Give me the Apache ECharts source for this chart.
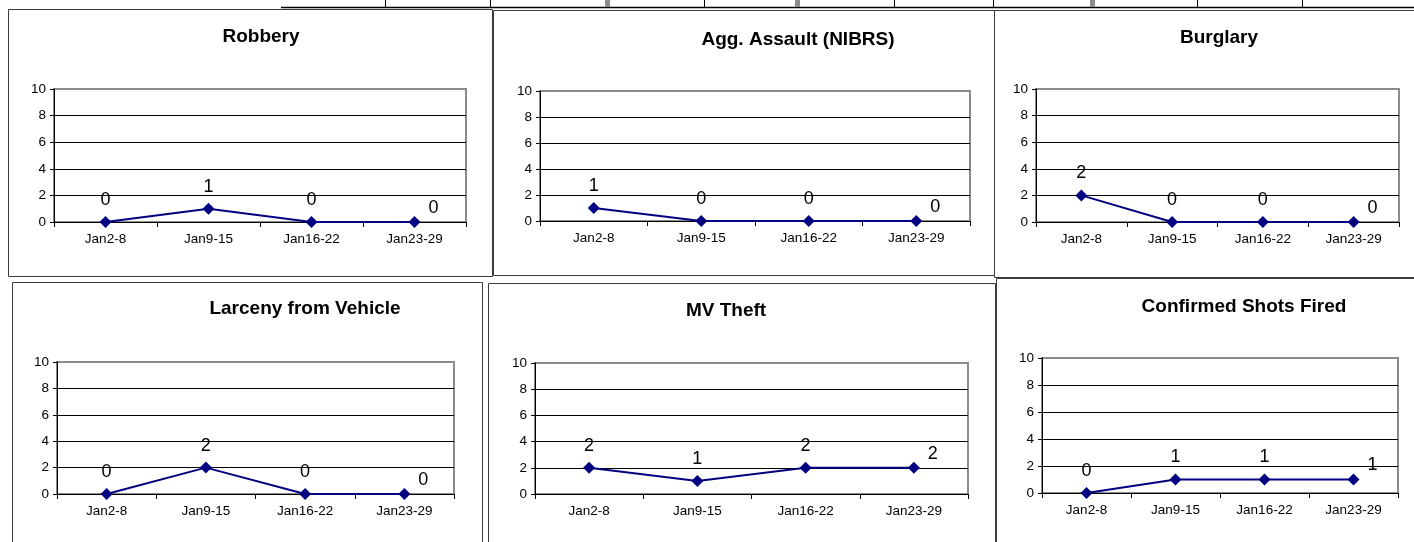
<!DOCTYPE html>
<html>
<head>
<meta charset="utf-8">
<script src="https://cdn.jsdelivr.net/npm/echarts@6/dist/echarts.min.js"></script>
<style>
  html, body { margin: 0; padding: 0; background: #fff; }
  #main { width: 1414px; height: 542px; }
</style>
</head>
<body>
<div id="main"></div>
<script>
// weekly counts per crime type
const weeks = ['Jan2-8', 'Jan9-15', 'Jan16-22', 'Jan23-29']
const yTicks = [0, 2, 4, 6, 8, 10]

const robbery = [0, 1, 0, 0]
const aggAssault = [1, 0, 0, 0]
const burglary = [2, 0, 0, 0]
const larcenyFromVehicle = [0, 2, 0, 0]
const mvTheft = [2, 1, 2, 2]
const shotsFired = [0, 1, 1, 1]

const titles = ['Robbery', 'Agg. Assault (NIBRS)', 'Burglary', 'Larceny from Vehicle', 'MV Theft', 'Confirmed Shots Fired']
const seriesData = [robbery, aggAssault, burglary, larcenyFromVehicle, mvTheft, shotsFired]

// panel layout (px): plot area, title center, frame
const panels = [
  { grid: [54, 89, 412, 133], title: [261, 27], box: [8, 9, 484, 267] },
  { grid: [540, 91, 430, 130], title: [798, 30], box: [493, 10, 501, 265] },
  { grid: [1036, 89, 363, 133], title: [1219, 28], box: [994, 10, 430, 267] },
  { grid: [57, 362, 397, 132], title: [305, 299], box: [12, 282, 470, 270] },
  { grid: [535, 363, 433, 131], title: [726, 301], box: [488, 283, 507, 270] },
  { grid: [1042, 358, 356, 135], title: [1244, 297], box: [996, 278, 430, 270] }
]

const font = 'Arial, "Liberation Sans", sans-serif'

const chart = echarts.init(document.getElementById('main'))

const grid = [], xAxis = [], yAxis = [], series = [], title = [], graphic = []

panels.forEach((p, i) => {
  grid.push({
    left: p.grid[0], top: p.grid[1], width: p.grid[2], height: p.grid[3],
    show: true, borderColor: '#8c8c8c', borderWidth: 2, backgroundColor: 'transparent'
  })
  xAxis.push({
    type: 'category', gridIndex: i, data: weeks, boundaryGap: true,
    axisLine: { lineStyle: { color: '#000', width: 1 } },
    axisTick: { show: true, length: 5, lineStyle: { color: '#000' } },
    axisLabel: { color: '#000', fontSize: 13.5, fontFamily: font, margin: 10 },
    splitLine: { show: false }
  })
  yAxis.push({
    type: 'value', gridIndex: i, min: yTicks[0], max: yTicks[yTicks.length - 1], interval: 2,
    axisLine: { show: true, lineStyle: { color: '#000', width: 1 } },
    axisTick: { show: true, length: 4, lineStyle: { color: '#000' } },
    axisLabel: { color: '#000', fontSize: 13.5, fontFamily: font, margin: 8 },
    splitLine: { show: true, showMaxLine: false, lineStyle: { color: '#000', width: 1 } }
  })
  series.push({
    type: 'line', xAxisIndex: i, yAxisIndex: i,
    data: seriesData[i].map((v, j) => j === 3 ? { value: v, label: { offset: [19, 8] } } : v),
    symbol: 'diamond', symbolSize: 12,
    lineStyle: { color: '#000080', width: 2 },
    itemStyle: { color: '#000080' },
    label: { show: true, position: 'top', distance: 7, color: '#000', fontSize: 18, fontFamily: font },
    animation: false
  })
  title.push({
    text: titles[i], left: p.title[0], top: p.title[1], textAlign: 'center', padding: 0,
    textStyle: { fontSize: 19, fontWeight: 'bold', color: '#000', fontFamily: font }
  })
  graphic.push({
    type: 'rect', shape: { x: p.box[0] + 0.5, y: p.box[1] + 0.5, width: p.box[2], height: p.box[3] },
    style: { fill: null, stroke: '#3c3c3c', lineWidth: 1 }, silent: true
  })
})

// fragment of the table above the charts
graphic.push({
  type: 'line', shape: { x1: 281, y1: 7.5, x2: 1414, y2: 7.5 },
  style: { stroke: '#000', lineWidth: 1.5 }, silent: true
})
;[385, 490, 704, 894, 993, 1197, 1302].forEach(x => {
  graphic.push({
    type: 'line', shape: { x1: x + 0.5, y1: 0, x2: x + 0.5, y2: 7 },
    style: { stroke: '#000', lineWidth: 1 }, silent: true
  })
})
;[605, 795, 1090].forEach(x => {
  graphic.push({
    type: 'rect', shape: { x: x, y: 0, width: 5, height: 7 },
    style: { fill: '#8c8c8c' }, silent: true
  })
})

chart.setOption({
  backgroundColor: '#fff',
  animation: false,
  title, grid, xAxis, yAxis, series, graphic
})
</script>
</body>
</html>
